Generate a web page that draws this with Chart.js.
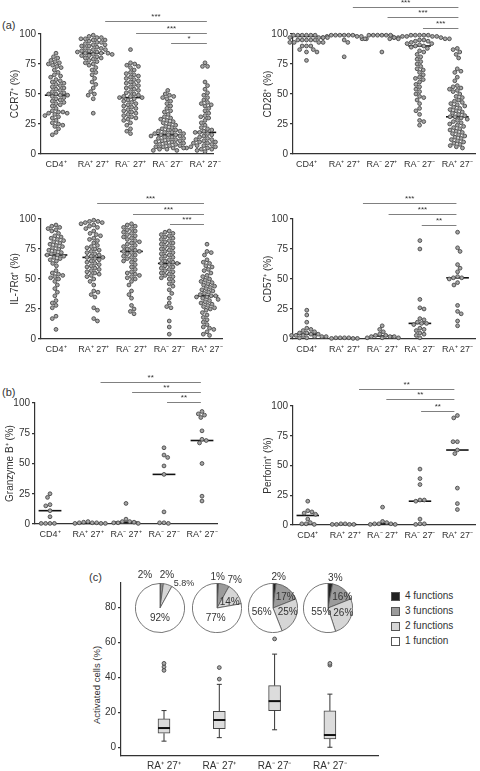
<!DOCTYPE html>
<html>
<head>
<meta charset="utf-8">
<script src="https://cdn.jsdelivr.net/npm/chart.js@4.4.0/dist/chart.umd.min.js"></script>
<style>
  body { margin: 0; width: 480px; height: 771px; position: relative; background: #fff; overflow: hidden;
         font-family: "Liberation Sans", Arial, sans-serif; color: #333; }
  canvas { position: absolute; }
  .t { position: absolute; white-space: nowrap; font-size: 10px; line-height: 1; }
  .lab { transform: translate(-50%, -50%); }
  .sw { position: absolute; width: 7px; height: 7px; border: 1px solid #555; }
  .rot { position: absolute; white-space: nowrap; font-size: 9.5px; line-height: 1; transform: translate(-50%, -50%) rotate(-90deg); }
</style>
</head>
<body>
<div class="t" style="left:2px;top:20px;font-size:11px">(a)</div>
<div class="t" style="left:2px;top:387px;font-size:11px">(b)</div>
<div class="t" style="left:89px;top:572px;font-size:11px">(c)</div>
<div class="rot" style="left:97px;top:685px">Activated cells (%)</div>
<div id="legend"></div>

<script>
// ---- data ----
const cats = ["CD4⁺", "RA⁺ 27⁺", "RA⁻ 27⁺", "RA⁻ 27⁻", "RA⁺ 27⁻"];
const boxCats = ["RA⁺ 27⁺", "RA⁻ 27⁺", "RA⁻ 27⁻", "RA⁺ 27⁻"];

const ccr7 = [
  [84,81,80,78,77,76,75,74,73,72,70,68,66,65,64,62,61,60,59,58,57,56,55,54,53,52,51,50,50,49,49,48,47,46,45,44,43,42,41,40,38,36,35,35,34,34,33,32,31,30,28,26,25,24,23,21,18,16],
  [99,98,97,97,96,96,95,95,94,93,93,92,91,91,90,90,89,88,88,87,87,86,86,85,85,84,84,84,83,83,82,82,81,80,80,79,78,77,76,75,74,72,70,68,66,63,60,58,55,52,50,49,46,34],
  [87,76,75,74,73,72,70,68,67,66,65,64,63,62,61,60,59,58,57,56,55,54,53,52,51,50,49,48,48,47,47,46,45,44,43,42,41,40,39,38,37,36,35,34,33,32,31,30,29,28,26,24,21,19,17],
  [53,50,49,48,47,46,44,42,40,38,36,35,33,31,30,29,28,27,26,25,24,23,22,21,20,20,19,19,18,18,17,17,16,16,16,15,15,14,14,13,13,12,12,11,11,10,10,9,9,8,8,7,7,6,6,5,5,4,4,3,3],
  [76,73,73,60,57,54,51,49,47,45,43,42,41,40,38,36,34,32,31,30,28,26,24,22,21,20,19,18,18,17,16,15,14,13,12,12,11,10,10,9,9,8,8,7,7,6,6,5,5,5,4,4,3,3,2]
];
const ccr7Medians = [49, 84, 47, 16, 18];

const cd28 = [
  [99,99,99,99,99,99,97,97,97,97,97,95,95,95,95,95,93,93,93,93,90,90,90,87,87,85,85,78],
  [99,99,99,99,99,99,98,98,98,97,96,95,93,81],
  [99,99,99,99,99,99,97,96,96,96,85],
  [99,99,99,99,99,98,98,98,98,97,97,97,96,96,96,95,95,94,94,93,92,92,91,90,90,89,88,86,85,83,81,79,77,75,73,71,70,68,66,64,63,62,60,58,56,54,52,50,48,47,45,42,38,36,33,28,27,24],
  [88,87,85,83,80,71,69,68,64,61,57,56,55,54,53,52,50,48,47,45,44,43,42,41,40,39,38,37,36,35,34,33,32,31,31,30,29,28,27,26,25,24,23,22,21,20,19,18,17,16,15,14,13,12,11,10,9,8,7,6,5]
];
const cd28Medians = [98, 99, 99, 90, 31];

const il7r = [
  [95,94,93,92,91,90,88,86,85,84,83,82,81,80,79,78,77,76,75,74,73,72,71,70,70,69,68,67,66,65,63,61,57,55,54,53,52,51,50,48,45,42,39,36,32,30,28,26,19,17,8],
  [99,98,98,97,97,96,95,94,93,92,90,88,87,86,84,83,82,80,78,77,76,75,74,73,72,71,70,69,68,68,67,66,65,64,63,62,61,60,59,58,57,56,55,54,53,52,50,48,45,40,39,37,35,26,24,17,15],
  [96,95,94,93,92,91,90,89,88,87,86,85,84,83,82,81,80,79,78,77,76,75,74,73,73,72,71,70,69,68,67,66,65,64,62,60,58,56,55,54,53,52,51,50,48,45,40,37,34,28,25,23,21],
  [90,89,88,87,86,85,84,83,82,81,80,79,78,77,76,75,74,73,72,71,70,69,68,67,66,65,64,63,63,62,61,60,59,58,57,56,55,54,53,52,51,50,48,46,44,41,38,34,30,27,26,15,10,4],
  [79,73,72,70,66,64,63,61,60,58,57,55,53,52,50,49,48,47,46,45,44,43,42,41,40,39,38,37,36,36,35,35,34,33,32,31,30,29,28,27,26,25,24,22,20,18,16,14,12,10,9,8,6,4,3]
];
const il7rMedians = [70, 68, 73, 63, 36];

const cd57 = [
  [24,20,14,9,8,7,6,5,5,4,4,3,3,3,2,2,2,1,1,1],
  [1,1,1,1,0.5,0.5,0.5],
  [11,8,6,4,3,3,2,2,2,1,1,1],
  [82,75,33,26,25,17,16,14,13,13,12,9,8,7,5,4,3,1],
  [89,76,73,62,59,56,52,51,51,50,47,45,28,23,21,15,11]
];
const cd57Medians = [4, 0.5, 2.5, 13, 51];

const gzmb = [
  [25,22,16,15,11,6,0.5,0.5,0.5,0.5],
  [2,1.5,1,1,1,0.5,0.5,0.5],
  [17,4,2,2,1.5,1,1,0.5],
  [63,57,55,48,41,10,1,1,0.5],
  [93,91,90,88,77,70,69,67,50,23,19]
];
const gzmbMedians = [11, 0.5, 1.5, 41, 69];

const perforin = [
  [20,12,11,10,9,5,2,1,1,0.5],
  [1,1,0.5,0.5,0.5,0.5],
  [15,3,2,1,1,1,0.5,0.5],
  [47,39,34,21,21,20,5,1,1,0.5],
  [92,90,70,70,63,60,31,18,13]
];
const perforinMedians = [8, 0.5, 1, 20, 63];

// significance bars: start category, end category, level (%), stars
const ccr7SigFrom = [1.32, 2.15, 3.09], ccr7SigTo = [4.05, 4.05, 4.05], ccr7SigAt = [110.8, 100.8, 92.5], ccr7SigText = ["***", "***", "*"];
const cd28SigFrom = [1.23, 2.15, 3.09], cd28SigTo = [4.03, 4.03, 4.03], cd28SigAt = [122.4, 113.9, 104.7], cd28SigText = ["***", "***", "***"];
const il7rSigFrom = [1.09, 2.04, 3.02], il7rSigTo = [3.92, 3.92, 3.92], il7rSigAt = [113.6, 104.4, 96], il7rSigText = ["***", "***", "***"];
const cd57SigFrom = [1.49, 2.17, 3.05], cd57SigTo = [3.97, 3.97, 3.97], cd57SigAt = [113.3, 104.2, 95], cd57SigText = ["***", "***", "**"];
const gzmbSigFrom = [1.33, 2.16, 3.08], gzmbSigTo = [3.97, 3.97, 3.97], gzmbSigAt = [117.6, 109.4, 101], gzmbSigText = ["**", "**", "**"];
const perforinSigFrom = [1.37, 2.1, 3.03], perforinSigTo = [3.92, 3.92, 3.92], perforinSigAt = [114, 105.6, 95.7], perforinSigText = ["**", "**", "**"];

// box plot (c)
const boxLow = [3.5, 5.5, 10, 0];
const boxQ1 = [8, 10.7, 21, 4.8];
const boxMedian = [11, 15.6, 26.4, 7];
const boxQ3 = [16.2, 20.6, 35.3, 20.8];
const boxHigh = [21, 36, 53.3, 30.4];
const boxOutliers = [[44, 46, 48], [39, 45.6], [62], [47, 48]];

// pies (c): 4, 3, 2, 1 functions
const pieFunctions = ["4 functions", "3 functions", "2 functions", "1 function"];
const pieValues = [[0.5, 1.7, 5.8, 92], [1, 7, 14, 77], [2, 17, 25, 56], [3, 16, 26, 55]];
const pieTexts = [["2%", "2%", "5.8%", "92%"], ["1%", "7%", "14%", "77%"], ["2%", "17%", "25%", "56%"], ["3%", "16%", "26%", "55%"]];
const pieColors = ["#222222", "#9b9b9b", "#d6d6d6", "#ffffff"];

// ---- drawing ----
Chart.defaults.font.family = '"Liberation Sans", Arial, sans-serif';
Chart.defaults.color = "#333";

const sigPlugin = {
  id: "sig",
  afterDatasetsDraw(chart, args, opts) {
    if (!opts.from) return;
    const { ctx, scales: { x, y } } = chart;
    ctx.save();
    ctx.strokeStyle = "#808080";
    ctx.lineWidth = 1;
    ctx.fillStyle = "#333";
    ctx.font = '8px "Liberation Sans", Arial, sans-serif';
    ctx.textAlign = "center";
    ctx.textBaseline = "bottom";
    opts.from.forEach((f, i) => {
      const x0 = x.getPixelForValue(f), x1 = x.getPixelForValue(opts.to[i]);
      const yy = Math.round(y.getPixelForValue(opts.at[i])) + 0.5;
      ctx.beginPath();
      ctx.moveTo(x0, yy);
      ctx.lineTo(x1, yy);
      ctx.stroke();
      ctx.fillText(opts.text[i], (x0 + x1) / 2, yy - 1);
    });
    ctx.restore();
  }
};

// spread dots sideways so they do not pile up (beeswarm layout)
function swarm(vals, idx, pxX, pxY, d) {
  const placed = [];
  vals.forEach((v) => {
    const yp = v * pxY;
    const bad = [];
    placed.forEach((p) => {
      const dy = Math.abs(p.yp - yp);
      if (dy < d) {
        const w = Math.sqrt(d * d - dy * dy);
        bad.push([p.xp - w, p.xp + w]);
      }
    });
    const cands = [0];
    bad.forEach((b) => cands.push(b[0], b[1]));
    const ok = cands.filter((c) => bad.every((b) => c <= b[0] + 1e-6 || c >= b[1] - 1e-6));
    const flip = placed.length % 2 ? 1 : -1;
    ok.sort((a, b) => Math.abs(a) - Math.abs(b) || flip * (a - b));
    placed.push({ xp: ok[0], yp });
  });
  return placed.map((p, i) => ({ x: idx + p.xp / pxX, y: vals[i] }));
}

function makeCanvas(l, t, w, h) {
  const cv = document.createElement("canvas");
  cv.width = w;
  cv.height = h;
  cv.style.left = l + "px";
  cv.style.top = t + "px";
  document.body.appendChild(cv);
  return cv;
}

function dotPanel(p) {
  const [l, t, w, h] = p.rect;
  const [aL, aT, aR, aB] = p.area;
  const xAxisH = 18;
  const cv = makeCanvas(l, t, w, h);
  const pxY = (aB - aT) / 100;
  const datasets = p.values.map((vals, i) => ({
    data: swarm(vals, i, p.step, pxY, 4.4),
    pointRadius: 1.9,
    borderWidth: 0.9,
    backgroundColor: "#a5a5a5",
    borderColor: "#4a4a4a",
    clip: false
  }));
  p.medians.forEach((m, i) => {
    datasets.push({
      type: "line",
      data: [{ x: i - 0.3, y: m }, { x: i + 0.3, y: m }],
      borderColor: "#111",
      borderWidth: 1.6,
      pointRadius: 0,
      clip: false
    });
  });
  new Chart(cv, {
    type: "scatter",
    data: { datasets },
    options: {
      responsive: false,
      animation: false,
      layout: { padding: { left: 0, top: aT - t, right: l + w - aR, bottom: t + h - aB - xAxisH } },
      plugins: {
        legend: { display: false },
        tooltip: { enabled: false },
        sig: p.sig
      },
      scales: {
        x: {
          type: "linear",
          min: (aL - p.c0) / p.step,
          max: (aR - p.c0) / p.step,
          afterBuildTicks: (s) => { s.ticks = [0, 1, 2, 3, 4].map((v) => ({ value: v })); },
          afterFit: (s) => { s.height = xAxisH; },
          ticks: {
            callback: (v, i) => cats[i],
            autoSkip: false, maxRotation: 0, minRotation: 0,
            padding: 5, font: { size: 9 }, color: "#333"
          },
          grid: { display: false, drawTicks: false },
          border: { color: "#333", width: 1.2 }
        },
        y: {
          min: 0,
          max: 100,
          afterBuildTicks: (s) => { s.ticks = [0, 25, 50, 75, 100].map((v) => ({ value: v })); },
          afterFit: (s) => { s.width = aL - l; },
          ticks: { padding: 2, font: { size: 10 }, color: "#333" },
          grid: { drawOnChartArea: false, drawTicks: true, tickLength: 3, color: "#333", lineWidth: 1.2 },
          border: { color: "#333", width: 1.2 },
          title: { display: true, text: p.title, font: { size: 10 }, color: "#333", padding: { top: p.titleX - l - 6, bottom: 0 } }
        }
      }
    },
    plugins: [sigPlugin]
  });
}

dotPanel({ rect: [0, 0, 240, 178], area: [41, 34, 213, 154], c0: 56, step: 37.25, titleX: 15,
  values: ccr7, medians: ccr7Medians, title: "CCR7⁺ (%)",
  sig: { from: ccr7SigFrom, to: ccr7SigTo, at: ccr7SigAt, text: ccr7SigText } });
dotPanel({ rect: [240, 0, 240, 178], area: [293, 34, 478, 154], c0: 306.7, step: 38.3, titleX: 268,
  values: cd28, medians: cd28Medians, title: "CD28⁺ (%)",
  sig: { from: cd28SigFrom, to: cd28SigTo, at: cd28SigAt, text: cd28SigText } });
dotPanel({ rect: [0, 180, 240, 180], area: [41, 219, 222, 339], c0: 56, step: 37.75, titleX: 15,
  values: il7r, medians: il7rMedians, title: "IL-7Rα⁺ (%)",
  sig: { from: il7rSigFrom, to: il7rSigTo, at: il7rSigAt, text: il7rSigText } });
dotPanel({ rect: [240, 180, 240, 180], area: [293, 219, 478, 339], c0: 307, step: 38.3, titleX: 268,
  values: cd57, medians: cd57Medians, title: "CD57⁺ (%)",
  sig: { from: cd57SigFrom, to: cd57SigTo, at: cd57SigAt, text: cd57SigText } });
dotPanel({ rect: [0, 370, 240, 180], area: [35, 403, 217, 524], c0: 50, step: 38, titleX: 10,
  values: gzmb, medians: gzmbMedians, title: "Granzyme B⁺ (%)",
  sig: { from: gzmbSigFrom, to: gzmbSigTo, at: gzmbSigAt, text: gzmbSigText } });
dotPanel({ rect: [240, 370, 240, 180], area: [293, 406, 478, 525], c0: 308, step: 38, titleX: 268,
  values: perforin, medians: perforinMedians, title: "Perforin⁺ (%)",
  sig: { from: perforinSigFrom, to: perforinSigTo, at: perforinSigAt, text: perforinSigText } });

// ---- box plot ----
const whiskerPlugin = {
  id: "whisker",
  afterDatasetsDraw(chart) {
    const { ctx, scales: { x, y } } = chart;
    ctx.save();
    boxLow.forEach((lo, i) => {
      const px = x.getPixelForValue(i);
      ctx.strokeStyle = "#333";
      ctx.lineWidth = 1;
      ctx.beginPath();
      ctx.moveTo(px, y.getPixelForValue(lo));
      ctx.lineTo(px, y.getPixelForValue(boxQ1[i]));
      ctx.moveTo(px, y.getPixelForValue(boxQ3[i]));
      ctx.lineTo(px, y.getPixelForValue(boxHigh[i]));
      ctx.moveTo(px - 2.5, y.getPixelForValue(lo));
      ctx.lineTo(px + 2.5, y.getPixelForValue(lo));
      ctx.moveTo(px - 2.5, y.getPixelForValue(boxHigh[i]));
      ctx.lineTo(px + 2.5, y.getPixelForValue(boxHigh[i]));
      ctx.stroke();
      ctx.strokeStyle = "#111";
      ctx.lineWidth = 2;
      ctx.beginPath();
      ctx.moveTo(px - 6, y.getPixelForValue(boxMedian[i]));
      ctx.lineTo(px + 6, y.getPixelForValue(boxMedian[i]));
      ctx.stroke();
    });
    ctx.restore();
  }
};

(function boxPanel() {
  const [l, t, w, h] = [90, 575, 300, 196];
  const [aL, aT, aR, aB] = [121, 583, 378, 756];
  const c0 = 164, step = 55.3, xAxisH = 15;
  const cv = makeCanvas(l, t, w, h);
  const outliers = [];
  boxOutliers.forEach((arr, i) => arr.forEach((v) => outliers.push({ x: i, y: v })));
  new Chart(cv, {
    type: "bar",
    data: {
      datasets: [
        {
          type: "bar",
          data: boxQ1.map((q, i) => ({ x: i, y: [q, boxQ3[i]] })),
          backgroundColor: "#dcdcdc",
          borderColor: "#444",
          borderWidth: 1,
          borderSkipped: false,
          barThickness: 12
        },
        {
          type: "scatter",
          data: outliers,
          pointRadius: 1.9,
          borderWidth: 0.9,
          backgroundColor: "#aaa",
          borderColor: "#444",
          clip: false
        }
      ]
    },
    options: {
      responsive: false,
      animation: false,
      layout: { padding: { left: 0, top: aT - t, right: l + w - aR, bottom: t + h - aB - xAxisH } },
      plugins: { legend: { display: false }, tooltip: { enabled: false } },
      scales: {
        x: {
          type: "linear",
          offset: false,
          min: (aL - c0) / step,
          max: (aR - c0) / step,
          afterBuildTicks: (s) => { s.ticks = [0, 1, 2, 3].map((v) => ({ value: v })); },
          afterFit: (s) => { s.height = xAxisH; },
          ticks: { callback: (v, i) => boxCats[i], autoSkip: false, maxRotation: 0, minRotation: 0,
                   padding: 4, font: { size: 10 }, color: "#333" },
          grid: { display: false, drawTicks: false, offset: false },
          border: { color: "#333", width: 1.2 }
        },
        y: {
          min: -5,
          max: 94,
          afterBuildTicks: (s) => { s.ticks = [0, 20, 40, 60, 80].map((v) => ({ value: v })); },
          afterFit: (s) => { s.width = aL - l; },
          ticks: { padding: 2, font: { size: 10 }, color: "#333" },
          grid: { drawOnChartArea: false, drawTicks: true, tickLength: 3, color: "#333", lineWidth: 1.2 },
          border: { color: "#333", width: 1.2 }
        }
      }
    },
    plugins: [whiskerPlugin]
  });
})();

// ---- pies ----
const pieCentres = [[160, 608], [216.7, 608], [272.7, 608], [328.3, 608]];
const pieLabelOffsets = [
  [[-15, -33], [7, -33], [24, -25], [0, 10]],
  [[1, -31], [18, -28], [13, -6], [-1, 10]],
  [[6, -31], [13, -11], [15, 4], [-11, 4]],
  [[7, -30], [14, -11], [15, 5], [-7, 4]]
];
pieValues.forEach((vals, k) => {
  const [cx, cy] = pieCentres[k];
  const cv = makeCanvas(Math.round(cx - 25), Math.round(cy - 25), 50, 50);
  new Chart(cv, {
    type: "pie",
    data: {
      labels: pieFunctions,
      datasets: [{ data: vals, backgroundColor: pieColors, borderColor: "#555", borderWidth: 0.8 }]
    },
    options: {
      responsive: false,
      animation: false,
      layout: { padding: 0 },
      plugins: { legend: { display: false }, tooltip: { enabled: false } }
    }
  });
  pieTexts[k].forEach((txt, j) => {
    const d = document.createElement("div");
    d.className = "t lab";
    d.textContent = txt;
    d.style.left = cx + pieLabelOffsets[k][j][0] + "px";
    d.style.top = cy + pieLabelOffsets[k][j][1] + "px";
    d.style.fontSize = txt.length > 3 ? "9px" : "10px";
    document.body.appendChild(d);
  });
});

// legend
const legend = document.getElementById("legend");
pieFunctions.forEach((name, i) => {
  const y = 596 + i * 15;
  const sw = document.createElement("div");
  sw.className = "sw";
  sw.style.left = "391px";
  sw.style.top = y - 4 + "px";
  sw.style.background = pieColors[i];
  legend.appendChild(sw);
  const tx = document.createElement("div");
  tx.className = "t";
  tx.textContent = name;
  tx.style.left = "405px";
  tx.style.top = y - 5 + "px";
  legend.appendChild(tx);
});
</script>
</body>
</html>
